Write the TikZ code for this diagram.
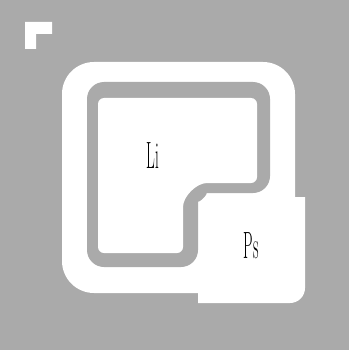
\documentclass[tikz,border=0pt]{standalone}
\usepackage{fontspec}
\usepackage{tikz}
\usetikzlibrary{positioning}
\definecolor{PlanGray}{RGB}{170,170,170}

\begin{document}
\begin{tikzpicture}[
  x=1pt, y=-1pt,
  zone/.style={fill=white},
  band/.style={fill=PlanGray},
  lbl/.style={font=\fontsize{38}{38}\selectfont, xscale=0.4, inner sep=0pt},
]
  % -------- background --------
  \fill[PlanGray] (0,0) rectangle (349,350);
  \useasboundingbox (0,0) rectangle (349,350);

  % -------- corner mark --------
  \fill[zone] (25,22) -- (52,22) -- (52,34) -- (36,34) -- (36,49) -- (25,49) -- cycle;

  % -------- outer white frame --------
  \fill[zone, rounded corners=32] (62,62) rectangle (295,293);
  \fill[zone] (198,197) -- (305,197) -- (305,288)
    arc[start angle=0, end angle=90, radius=15] -- (198,303) -- cycle;

  % -------- grey band round Li --------
  \fill[band, rounded corners=17] (87,82) -- (270,82) -- (270,193) -- (223,193)
    arc[start angle=270, end angle=180, radius=25] -- (198,267) -- (87,267) -- cycle;

  % -------- inner room Li --------
  \fill[zone, rounded corners=6] (98,98) -- (257,98) -- (257,183) -- (213,183)
    arc[start angle=270, end angle=180, radius=30] -- (183,253) -- (98,253) -- cycle;

  % -------- labels --------
  \node[lbl] (li) at (153,156) {Li};
  \node[lbl] (ps) at (251,246) {Ps};
\end{tikzpicture}
\end{document}
